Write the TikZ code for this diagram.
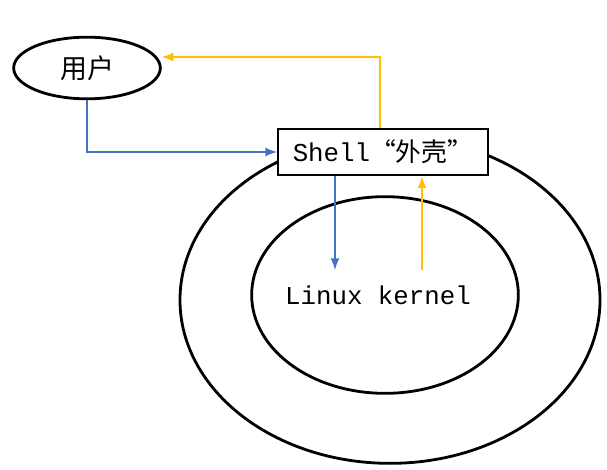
\documentclass[tikz,border=0pt]{standalone}
\usepackage{fontspec}
\setmonofont{Liberation Mono}
\newfontfamily\cjk{Noto Sans CJK SC}
\usetikzlibrary{shapes.geometric}
\definecolor{lineblue}{RGB}{68,114,196}
\definecolor{lineyellow}{RGB}{255,192,0}
\begin{document}
\begin{tikzpicture}[x=0.03cm,y=-0.03cm,line width=2.4pt,>=latex]
    \tikzstyle{blob}=[ellipse,draw=black,inner sep=0pt]
    \tikzstyle{blue line}=[->,draw=lineblue]
    \tikzstyle{yellow line}=[->,draw=lineyellow]
    \useasboundingbox (0,0) rectangle (607,470);

    % layers
    \node[blob,minimum width=12.6cm,minimum height=9.8cm] (outer) at (390,300) {};
    \node[blob,minimum width=8cm,minimum height=5.9cm] (inner) at (385,295) {};
    \node[blob,minimum width=4.4cm,minimum height=1.85cm,font=\cjk\fontsize{23}{27}\selectfont] (user) at (87,68) {用户};
    \node[draw=black,fill=white,line width=1.6pt,minimum width=6.3cm,minimum height=1.4cm,inner sep=2pt,font=\ttfamily\fontsize{22}{26}\selectfont] (shell) at (383,152) {Shell{\cjk “外壳”}};
    \node[font=\ttfamily\fontsize{22}{26}\selectfont] (kernel) at (378,295) {Linux kernel};

    % connectors
    \coordinate (ub) at (87,152);
    \coordinate (ut) at (380,57);
    \draw[blue line] (user.south) -- (ub) -- (shell.west);
    \draw[blue line] (shell.south -| 335,0) -- (335,270);
    \draw[yellow line] (shell.north -| 380,0) -- (ut) -- (user.east |- ut);
    \draw[yellow line] (422,270) -- (shell.south -| 422,0);
\end{tikzpicture}
\end{document}
